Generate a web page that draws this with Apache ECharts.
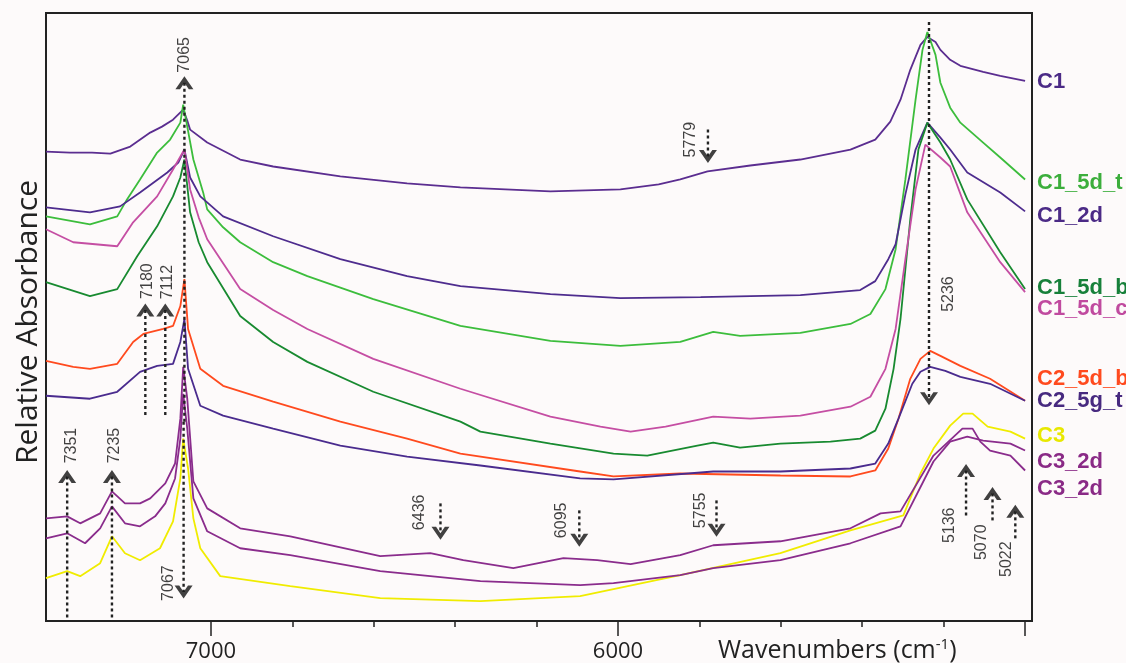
<!DOCTYPE html>
<html><head><meta charset="utf-8">
<script src="https://cdn.jsdelivr.net/npm/echarts@6/dist/echarts.min.js"></script>
<style>html,body{margin:0;padding:0;background:#fdfafa}#c{width:1126px;height:663px}</style>
</head><body><div id="c"></div>
<script>
// ---- tick values (wavenumbers, cm-1) ----
const xMajorTicks = [7000, 6000, 5000];
const xTickLabels = [7000, 6000];
const xMinorTicks = [6800, 6600, 6400, 6200, 5800, 5600, 5400, 5200];

// ---- spectra: [wavenumber, relative absorbance] ----
const C1 = [[7405,4.71],[7346,4.70],[7292,4.70],[7247,4.69],[7198,4.76],[7149,4.90],[7120,4.96],[7093,5.03],[7068,5.13],[7058,5.02],[7051,4.93],[7009,4.80],[6928,4.63],[6847,4.56],[6682,4.46],[6518,4.39],[6387,4.35],[6166,4.31],[5994,4.33],[5900,4.38],[5847,4.43],[5780,4.51],[5675,4.57],[5552,4.63],[5429,4.73],[5368,4.83],[5331,5.01],[5306,5.23],[5282,5.53],[5257,5.78],[5240,5.86],[5220,5.81],[5208,5.73],[5184,5.63],[5159,5.57],[5103,5.51],[5061,5.47],[5000,5.42]];
const C1_5d_t = [[7405,4.06],[7297,3.98],[7230,4.06],[7206,4.23],[7174,4.43],[7132,4.70],[7100,4.83],[7075,5.00],[7068,5.18],[7058,4.96],[7043,4.63],[7019,4.30],[7009,4.13],[6970,3.95],[6928,3.80],[6847,3.60],[6763,3.46],[6601,3.23],[6387,2.96],[6166,2.81],[5994,2.76],[5847,2.80],[5766,2.90],[5700,2.86],[5552,2.89],[5429,2.98],[5380,3.08],[5343,3.33],[5318,3.73],[5294,4.43],[5269,5.23],[5252,5.73],[5240,5.91],[5220,5.68],[5208,5.40],[5184,5.15],[5159,5.00],[5103,4.80],[5061,4.65],[5000,4.43]];
const C1_2d = [[7405,4.15],[7297,4.10],[7223,4.16],[7174,4.30],[7107,4.50],[7080,4.60],[7065,4.73],[7051,4.45],[7026,4.26],[6970,4.06],[6847,3.86],[6682,3.63],[6518,3.46],[6387,3.36],[6166,3.28],[5994,3.24],[5797,3.25],[5552,3.27],[5405,3.32],[5368,3.41],[5336,3.63],[5318,3.78],[5294,4.28],[5269,4.73],[5240,5.00],[5208,4.85],[5184,4.73],[5142,4.50],[5061,4.30],[5000,4.11]];
const C1_5d_b = [[7405,3.40],[7297,3.26],[7230,3.33],[7181,3.66],[7132,3.96],[7093,4.26],[7075,4.45],[7065,4.63],[7051,4.10],[7030,3.80],[7009,3.60],[6928,3.06],[6847,2.80],[6763,2.60],[6601,2.30],[6387,2.00],[6338,1.90],[6166,1.78],[6011,1.68],[5928,1.66],[5805,1.76],[5766,1.79],[5700,1.74],[5601,1.78],[5478,1.80],[5405,1.83],[5368,1.91],[5343,2.13],[5323,2.53],[5306,3.03],[5282,4.03],[5262,4.73],[5240,5.00],[5208,4.80],[5184,4.63],[5142,4.23],[5061,3.70],[5000,3.33]];
const C1_5d_c = [[7405,3.93],[7338,3.80],[7230,3.76],[7191,4.00],[7132,4.26],[7093,4.53],[7065,4.73],[7051,4.33],[7030,4.05],[7009,3.83],[6928,3.33],[6847,3.12],[6763,2.93],[6601,2.63],[6387,2.33],[6166,2.05],[6043,1.95],[5969,1.90],[5883,1.95],[5766,2.05],[5675,2.03],[5552,2.06],[5429,2.15],[5380,2.25],[5343,2.53],[5318,2.93],[5294,3.63],[5269,4.33],[5245,4.78],[5208,4.65],[5184,4.56],[5142,4.10],[5061,3.60],[5000,3.30]];
const C2_5d_b = [[7405,2.61],[7338,2.55],[7297,2.53],[7230,2.58],[7191,2.80],[7166,2.88],[7117,2.93],[7093,2.96],[7075,3.16],[7065,3.43],[7056,2.93],[7026,2.53],[6970,2.36],[6847,2.20],[6682,2.00],[6518,1.83],[6387,1.68],[6093,1.50],[6011,1.45],[5847,1.48],[5601,1.46],[5429,1.45],[5368,1.51],[5336,1.73],[5311,2.03],[5282,2.43],[5257,2.63],[5233,2.71],[5208,2.66],[5159,2.56],[5086,2.43],[5000,2.21]];
const C2_5g_t = [[7405,2.26],[7297,2.23],[7230,2.30],[7174,2.50],[7132,2.56],[7093,2.58],[7075,2.80],[7065,3.03],[7056,2.53],[7026,2.16],[6970,2.06],[6847,1.93],[6682,1.76],[6518,1.65],[6338,1.56],[6093,1.43],[6011,1.42],[5766,1.50],[5601,1.50],[5429,1.53],[5368,1.58],[5336,1.78],[5311,2.03],[5277,2.38],[5257,2.50],[5233,2.55],[5196,2.51],[5159,2.45],[5086,2.38],[5000,2.21]];
const C3 = [[7405,0.43],[7353,0.50],[7321,0.45],[7272,0.58],[7243,0.85],[7211,0.68],[7174,0.61],[7125,0.73],[7093,1.00],[7075,1.43],[7068,1.83],[7056,1.53],[7043,1.03],[7026,0.73],[6977,0.45],[6805,0.35],[6584,0.23],[6338,0.20],[6093,0.25],[5847,0.46],[5601,0.68],[5429,0.91],[5299,1.06],[5257,1.48],[5225,1.73],[5184,1.96],[5152,2.08],[5129,2.08],[5092,1.95],[5036,1.90],[5000,1.83]];
const C3_2d_a = [[7405,1.03],[7353,1.05],[7321,0.98],[7272,1.08],[7243,1.30],[7211,1.18],[7174,1.18],[7149,1.23],[7112,1.38],[7088,1.58],[7075,2.03],[7068,2.55],[7058,2.23],[7043,1.40],[7009,1.13],[6928,0.93],[6805,0.85],[6584,0.65],[6461,0.68],[6380,0.61],[6257,0.53],[6134,0.63],[6051,0.61],[5969,0.57],[5847,0.66],[5766,0.76],[5601,0.80],[5429,0.93],[5355,1.08],[5306,1.10],[5225,1.66],[5154,1.93],[5129,1.93],[5110,1.80],[5086,1.71],[5036,1.66],[5000,1.51]];
const C3_2d_b = [[7405,0.83],[7353,0.88],[7309,0.78],[7272,0.93],[7243,1.15],[7211,0.98],[7174,0.95],[7137,1.05],[7112,1.18],[7088,1.43],[7075,1.83],[7068,2.28],[7058,1.93],[7043,1.23],[7009,0.90],[6928,0.73],[6805,0.66],[6584,0.50],[6338,0.40],[6093,0.36],[6011,0.38],[5847,0.46],[5766,0.53],[5601,0.61],[5429,0.78],[5306,0.95],[5225,1.60],[5184,1.80],[5142,1.85],[5103,1.81],[5036,1.78],[5000,1.71]];

const seriesNames = ['C1','C1_5d_t','C1_2d','C1_5d_b','C1_5d_c','C2_5d_b','C2_5g_t','C3','C3_2d','C3_2d'];
const seriesData = [C1, C1_5d_t, C1_2d, C1_5d_b, C1_5d_c, C2_5d_b, C2_5g_t, C3, C3_2d_a, C3_2d_b];
const seriesColors = ['#5b2d90','#3cbd3c','#4e2c8e','#188a30','#c54ea3','#ff4a1e','#4a2b8e','#f0ec00','#8a2c8c','#8a2c8c'];
const labelColors  = ['#4b2a86','#3cae3c','#4b2a86','#17803a','#c04a9f','#ff4a1e','#47297f','#e8e800','#8a2a86','#8a2a86'];

// ---- peak annotations ----
const annoPos    = [7065, 7067, 5236, 5779, 7161, 7112, 7353, 7243, 6436, 6095, 5758, 5145, 5080, 5024];
const annoTop    = [5.40, 2.00, 6.01, 4.93, 3.12, 3.12, 1.45, 1.45, 1.18, 1.11, 1.21, 1.51, 1.28, 1.10];
const annoBottom = [2.00, 0.29, 2.23, 4.66, 2.05, 2.05, 0.00, 0.00, 0.88, 0.81, 0.91, 1.03, 1.00, 0.81];
const annoDir    = ['up','down','down','down','up','up','up','up','down','down','down','up','up','up'];
const annoText   = ['7065','7067','5236','5779','7180','7112','7351','7235','6436','6095','5755','5136','5070','5022'];
const annoTextX  = [7065, 7105, 5188, 5822, 7156, 7107, 7343, 7237, 6488, 6139, 5797, 5186, 5107, 5046];
const annoTextY  = [5.68, 0.38, 3.28, 4.83, 3.41, 3.40, 1.76, 1.76, 1.09, 1.01, 1.11, 0.96, 0.79, 0.62];

const chart = echarts.init(document.getElementById('c'));
const X_MIN = 4983, X_MAX = 7405;

const series = [];
seriesData.forEach((d, i) => {
  series.push({
    type: 'line', name: seriesNames[i], data: d, showSymbol: false, smooth: false,
    xAxisIndex: 0, yAxisIndex: 0,
    lineStyle: { color: seriesColors[i], width: 1.8 }, z: 2 + (i === 7 ? 0 : 1)
  });
});
annoPos.forEach((w, i) => {
  series.push({
    type: 'line', data: [[w, annoTop[i]], [w, annoBottom[i]]], showSymbol: false, silent: true,
    lineStyle: { color: '#222', width: 2.4, type: [3, 3] }, z: 5
  });
});
series.push({
  type: 'scatter', silent: true, z: 6,
  symbol: 'path://M0,13 L9,0 L18,13 L13.4,13 L9,6.6 L4.6,13 Z',
  symbolSize: [18, 13],
  itemStyle: { color: '#111' },
  data: annoPos.map((w, i) => ({
    value: [w, annoDir[i] === 'up' ? annoTop[i] : annoBottom[i]],
    symbolRotate: annoDir[i] === 'up' ? 0 : 180
  }))
});
series.push({
  type: 'scatter', silent: true, z: 6, symbolSize: 0,
  data: annoText.map((t, i) => ({ value: [annoTextX[i], annoTextY[i]], name: t })),
  label: {
    show: true, position: 'inside', rotate: 90, formatter: p => p.name,
    fontSize: 16, fontFamily: 'Liberation Sans, Arial', color: '#111'
  }
});

const rightLabelY = [83, 184, 217, 289, 310, 380, 402, 437, 463, 490];
const graphics = seriesNames.map((n, i) => ({
  type: 'text', left: 1037, top: rightLabelY[i] - 12,
  style: { text: n, fill: labelColors[i], font: 'bold 22px "Liberation Sans", Arial' }
}));
graphics.push({
  type: 'text', x: 28, y: 322, rotation: Math.PI / 2,
  style: { text: 'Relative Absorbance', fill: '#222', font: '30px "Open Sans"', textAlign: 'center', textVerticalAlign: 'middle' }
});
graphics.push({
  type: 'text', x: 718, y: 651,
  style: {
    text: 'Wavenumbers (cm{s|-1})', fill: '#222', font: '25px "Open Sans"', textVerticalAlign: 'middle',
    rich: { s: { fontSize: 15, fontFamily: 'Open Sans', fill: '#222', padding: [0, 0, 12, 0] } }
  }
});

chart.setOption({
  animation: false,
  backgroundColor: '#fdfafa',
  grid: { left: 46, right: 94, top: 13, bottom: 40, show: true, borderColor: '#222', borderWidth: 2 },
  xAxis: [
    { type: 'value', min: X_MIN, max: X_MAX, inverse: true, position: 'bottom',
      axisLine: { show: true, lineStyle: { color: '#222', width: 2 } },
      axisTick: { show: true, length: 15, customValues: xMajorTicks, lineStyle: { color: '#222', width: 1.5 } },
      axisLabel: { show: true, customValues: xTickLabels, margin: 20, fontSize: 22, fontFamily: 'Open Sans', color: '#222', formatter: v => String(v) },
      splitLine: { show: false } },
    { type: 'value', min: X_MIN, max: X_MAX, inverse: true, position: 'bottom',
      axisLine: { show: false },
      axisTick: { show: true, length: 6, customValues: xMinorTicks, lineStyle: { color: '#222', width: 1.5 } },
      axisLabel: { show: false }, splitLine: { show: false } }
  ],
  yAxis: { type: 'value', min: 0, max: 6.1, axisLine: { show: true, lineStyle: { color: '#222', width: 2 } },
    axisTick: { show: false }, axisLabel: { show: false }, splitLine: { show: false } },
  graphic: graphics,
  series: series
});
</script></body></html>
